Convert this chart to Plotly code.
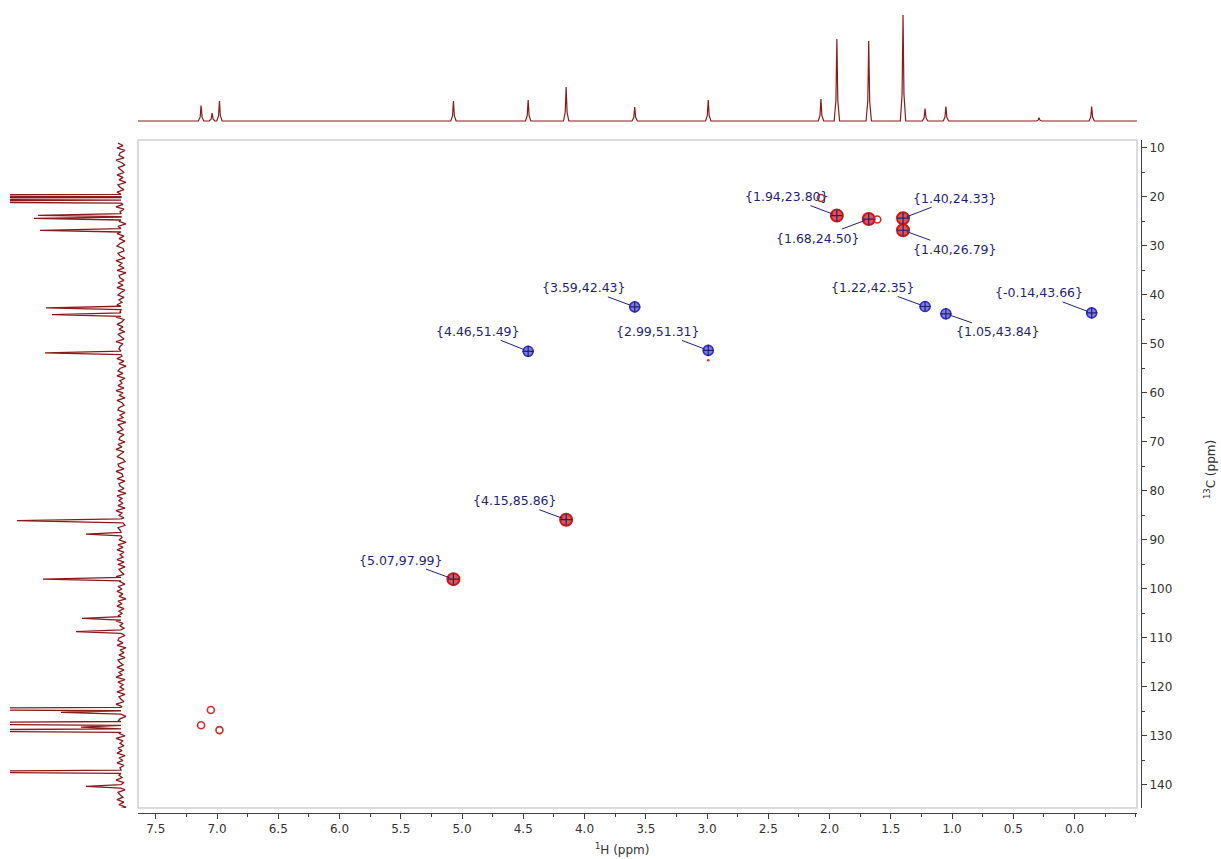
import plotly.graph_objects as go

W, H = 1221, 859

# ---------------- data ----------------
# 1H projection (top): chemical shift (ppm) and peak height (arbitrary)
h1_ppm = [7.13, 7.04, 6.98, 5.07, 4.46, 4.15, 3.59, 2.99, 2.07, 1.94, 1.68, 1.40, 1.22, 1.05, 0.29, -0.14]
h1_int = [15.5, 8.0, 20.0, 20.0, 21.0, 34.0, 14.0, 21.0, 22.0, 82.0, 80.0, 106.0, 12.5, 14.5, 3.3, 14.5]

# 13C projection (left)
c13_ppm = [19.8, 20.3, 20.9, 23.75, 24.35, 26.8, 42.65, 44.0, 51.8, 86.05, 88.8, 98.0,
           106.0, 108.7, 124.5, 125.2, 127.4, 128.2, 128.9, 137.3, 140.3]
c13_int = [400, 400, 300, 83, 87, 81, 75, 69, 76, 104, 35, 78,
           39, 45, 300, 60, 300, 40, 300, 250, 35]
# baseline noise of the 13C projection, one value every 0.5 ppm from 9 ppm
c13_noise = [3, -2, 4, -4, 1, 2, -3, 5, -1, -4, 3, 0, -3, 4, -2, 2, -5, 3, 1, -3, 4,
             -1, -4, 2, 3, -2, 5, -3, 1, -4, 4, -1, 2, -5, 3, -2, 0, 4, -3, 2, -4, 1,
             4, -2, -3, 3, 1, -4, 5, -1, 2, -3, 4, -5, 2, 1, -3, 3, -2, 4, -4, 0, 3,
             -3, 2, -1, 4, -4, 3, 1, -2, 5, -3, -1, 4, -2, 2, -4, 3, 0, -3, 5, -2, 1,
             2, -4, 3, -1, 4, -3, 2, -5, 1, 3, -2, 4, -4, 1, -1, 3, -3, 5, -2, 2, -4,
             4, -1, -3, 2, 3, -4, 1, -2, 4, -5, 3, 0, -2, 4, -3, 1, 2, -4, 3, -1, 5,
             -3, 1, 4, -2, -4, 3, 2, -3, 5, -1, -2, 4, -4, 2, 1, -3, 3, -5, 4, -1, 2,
             -2, 3, -4, 5, -1, 2, -3, 4, -2, -4, 3, 1, -3, 4, -1, 2, -5, 3, -2, 4, -3,
             1, -2, 4, -3, 3, -4, 2, 0, -3, 5, -2, 1, -4, 3, -1, 4, -2, 2, -5, 3, -1,
             4, -3, 2, -1, 3, -4, 5, -2, 1, -3, 4, -1, -4, 2, 3, -2, 4, -5, 1, -3, 2,
             -4, 3, 1, -2, 4, -3, 2, -1, 5, -4, 3, -2, 1, -3, 4, -4, 2, 0, -3, 5, -1,
             2, -3, 4, -5, 1, 3, -2, 4, -1, -3, 2, -4, 5, -2, 1, -3, 3, -1, 4, -4, 2,
             -2, 4, -3, 1, 3, -4, 2, -1, 5, -3, -2, 4, -4, 3, 1, -2, 4, -3, 2, -5, 3]
noise_start = 9.0
noise_step = 0.5

# 2D cross peaks (HSQC) - red phase
red_h = [1.94, 1.68, 1.40, 1.40, 4.15, 5.07]
red_c = [23.80, 24.50, 24.33, 26.79, 85.86, 97.99]
# blue phase
blue_h = [3.59, 4.46, 2.99, 1.22, 1.05, -0.14]
blue_c = [42.43, 51.49, 51.31, 42.35, 43.84, 43.66]
# small unlabeled red contours
small_red_h = [7.05, 7.13, 6.98, 2.07, 1.61]
small_red_c = [124.7, 127.8, 128.8, 20.2, 24.6]
dot_red_h = [2.99]
dot_red_c = [53.3]

# peak labels and their text offsets relative to the peak (px)
label_h = [1.94, 1.68, 1.40, 1.40, 3.59, 1.22, -0.14, 1.05, 4.46, 2.99, 4.15, 5.07]
label_c = [23.80, 24.50, 24.33, 26.79, 42.43, 42.35, 43.66, 43.84, 51.49, 51.31, 85.86, 97.99]
label_dx = [-50, -51, 52, 52, -51, -52, -53, 52, -50, -50, -51, -52]
label_dy = [-19, 19, -20, 19, -19, -19, -20, 18, -20, -19, -19, -19]

x_ticks = [7.5, 7.0, 6.5, 6.0, 5.5, 5.0, 4.5, 4.0, 3.5, 3.0, 2.5, 2.0, 1.5, 1.0, 0.5, 0.0]
y_ticks = [10, 20, 30, 40, 50, 60, 70, 80, 90, 100, 110, 120, 130, 140]

X_RANGE = [7.645, -0.51]
Y_RANGE = [144.7, 8.37]

SPEC = "#8b1a1a"
NAVY = "#1f1f78"
AX = "#404040"

# ---------------- build projection lines ----------------
hw = 0.022
tx, ty = [X_RANGE[0]], [0.0]
for p, h in sorted(zip(h1_ppm, h1_int), key=lambda t: -t[0]):
    tx += [p + hw, p + hw * 0.35, p, p - hw * 0.35, p - hw]
    ty += [0.0, h * 0.25, h, h * 0.25, 0.0]
tx.append(X_RANGE[1]); ty.append(0.0)

cw = 0.35
pts = []
for i, n in enumerate(c13_noise):
    yv = noise_start + i * noise_step
    if all(abs(yv - p) > cw + 0.05 for p in c13_ppm):
        pts.append((yv, float(n)))
for p, h in zip(c13_ppm, c13_int):
    pts += [(p - cw, 0.0), (p, float(h)), (p + cw, 0.0)]
pts.sort(key=lambda t: t[0])
ly = [q[0] for q in pts]
lx = [q[1] for q in pts]

fig = go.Figure()

fig.add_trace(go.Scatter(x=tx, y=ty, mode="lines", xaxis="x2", yaxis="y2",
                         line=dict(color=SPEC, width=1.2), hoverinfo="skip"))
fig.add_trace(go.Scatter(x=lx, y=ly, mode="lines", xaxis="x3", yaxis="y3",
                         line=dict(color=SPEC, width=1.3), hoverinfo="skip"))

# 2D peaks
fig.add_trace(go.Scatter(x=red_h, y=red_c, mode="markers",
                         marker=dict(symbol="circle", size=12, color="#e25555",
                                     line=dict(color="#c41a1a", width=2))))
fig.add_trace(go.Scatter(x=blue_h, y=blue_c, mode="markers",
                         marker=dict(symbol="circle", size=10, color="#8080e0",
                                     line=dict(color="#2f2fcf", width=1.6))))
fig.add_trace(go.Scatter(x=small_red_h, y=small_red_c, mode="markers",
                         marker=dict(symbol="circle-open", size=7, color="#d42a2a",
                                     line=dict(color="#d42a2a", width=1.6))))
fig.add_trace(go.Scatter(x=dot_red_h, y=dot_red_c, mode="markers",
                         marker=dict(symbol="circle", size=2.5, color="#d42a2a")))
fig.add_trace(go.Scatter(x=red_h + blue_h, y=red_c + blue_c, mode="markers",
                         marker=dict(symbol="cross-thin-open", size=8, color=NAVY,
                                     line=dict(color=NAVY, width=1.2))))

annotations = []
for h, c, dx, dy in zip(label_h, label_c, label_dx, label_dy):
    annotations.append(dict(
        x=h, y=c, xref="x", yref="y", ax=dx, ay=dy,
        text="{%.2f,%.2f}" % (h, c), showarrow=True, arrowhead=0,
        arrowwidth=1, arrowcolor=NAVY, standoff=4,
        font=dict(family="DejaVu Sans", size=12.5, color=NAVY)))

annotations.append(dict(text="<sup>1</sup>H (ppm)", xref="paper", yref="paper",
                        x=622 / W, y=1 - 849 / H, xanchor="center", yanchor="middle",
                        showarrow=False,
                        font=dict(family="DejaVu Sans", size=12, color="#333")))
annotations.append(dict(text="<sup>13</sup>C (ppm)", xref="paper", yref="paper",
                        x=1210 / W, y=1 - 470 / H, xanchor="center", yanchor="middle",
                        showarrow=False, textangle=-90,
                        font=dict(family="DejaVu Sans", size=12, color="#333")))

main_xdom = [138 / W, 1137 / W]
main_ydom = [1 - 808 / H, 1 - 140 / H]

fig.update_layout(
    width=W, height=H, margin=dict(l=0, r=0, t=0, b=0),
    paper_bgcolor="white", plot_bgcolor="white", showlegend=False,
    font=dict(family="DejaVu Sans", size=12, color="#333"),
    xaxis=dict(domain=main_xdom, range=X_RANGE, anchor="free", position=1 - 813 / H,
               showgrid=False, zeroline=False, showline=True, linecolor=AX, linewidth=1,
               ticks="outside", ticklen=5, tickcolor=AX, tickvals=x_ticks,
               ticktext=["%.1f" % v for v in x_ticks],
               minor=dict(dtick=0.25, tick0=0, ticks="outside", ticklen=3, tickcolor=AX),
               tickfont=dict(size=12, color="#333")),
    yaxis=dict(domain=main_ydom, range=Y_RANGE, anchor="free", position=1141 / W, side="right",
               showgrid=False, zeroline=False, showline=True, linecolor=AX, linewidth=1,
               ticks="outside", ticklen=5, tickcolor=AX, tickvals=y_ticks,
               minor=dict(dtick=5, tick0=0, ticks="outside", ticklen=3, tickcolor=AX),
               tickfont=dict(size=12, color="#333")),
    xaxis2=dict(domain=main_xdom, range=X_RANGE, anchor="y2", visible=False),
    yaxis2=dict(domain=[1 - 125 / H, 1 - 5 / H], range=[-4, 116], anchor="x2", visible=False),
    xaxis3=dict(domain=[10 / W, 127 / W], range=[111, -6], anchor="y3", visible=False),
    yaxis3=dict(domain=main_ydom, range=Y_RANGE, anchor="x3", visible=False),
    annotations=annotations,
    shapes=[dict(type="rect", xref="paper", yref="paper",
                 x0=main_xdom[0], x1=main_xdom[1], y0=main_ydom[0], y1=main_ydom[1],
                 line=dict(color="#cfcfcf", width=1.5), fillcolor="rgba(0,0,0,0)", layer="below")],
)

fig.write_html("out.html")
